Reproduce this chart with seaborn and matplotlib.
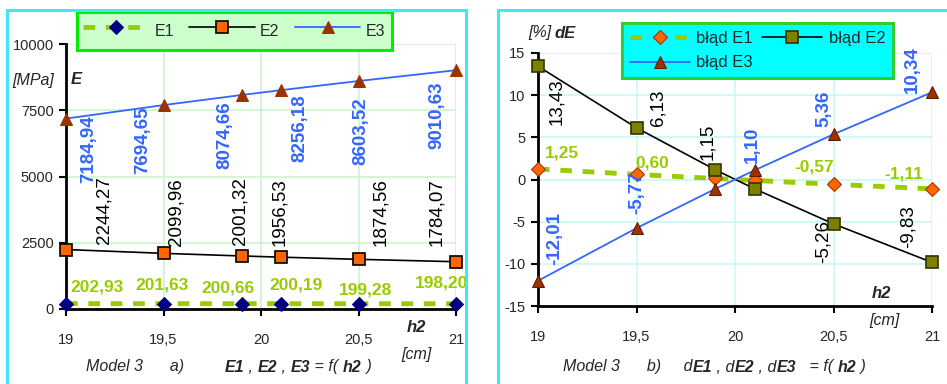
import numpy as np
import pandas as pd
import matplotlib
matplotlib.use("Agg")
import matplotlib.pyplot as plt
import seaborn as sns
from matplotlib.patches import Rectangle

# ---------------- data ----------------
h2 = [19.0, 19.5, 19.9, 20.1, 20.5, 21.0]
E1 = [202.93, 201.63, 200.66, 200.19, 199.28, 198.20]
E2 = [2244.27, 2099.96, 2001.32, 1956.53, 1874.56, 1784.07]
E3 = [7184.94, 7694.65, 8074.66, 8256.18, 8603.52, 9010.63]
dE1 = [1.25, 0.60, 0.12, -0.11, -0.57, -1.11]
dE2 = [13.43, 6.13, 1.15, -1.11, -5.26, -9.83]
dE3 = [-12.01, -5.77, -1.11, 1.10, 5.36, 10.34]
left_labels = ["E1", "E2", "E3"]
right_labels = ["błąd E1", "błąd E2", "błąd E3"]
x_ticks = [19, 19.5, 20, 20.5, 21]
left_yticks = [0, 2500, 5000, 7500, 10000]
right_yticks = [-15, -10, -5, 0, 5, 10, 15]

sns.set_theme(style="white")
plt.rcParams['font.family'] = ['Liberation Sans', 'DejaVu Sans']

W, H = 947, 384
fig = plt.figure(figsize=(W / 100, H / 100), dpi=100)
fig.patch.set_facecolor("white")

def fx(px):
    return px / W

def fy(py):
    return 1 - py / H

axL = fig.add_axes([fx(66), fy(309), fx(456) - fx(66), fy(44) - fy(309)])
axR = fig.add_axes([fx(538), fy(306), fx(932) - fx(538), fy(53) - fy(306)])

# panel borders
for (x0, y0, x1, y1) in [(7, 10, 466, 390), (498, 10, 952, 390)]:
    fig.patches.append(Rectangle((fx(x0), fy(y1)), fx(x1) - fx(x0), fy(y0) - fy(y1),
                                 transform=fig.transFigure, fill=False,
                                 edgecolor="#3fe8f5", linewidth=2.2, zorder=0))

GREEN = "#99cc00"
BLUE = "#3366ff"
BROWN = "#993300"
LBL = 13.5

def comma(v):
    return f"{v:.2f}".replace(".", ",")

def tick_fmt(v):
    s = f"{v:g}"
    return s.replace(".", ",")

def style_axes(ax, gridcolor, yticks, ylim):
    ax.set_facecolor("none")
    ax.set_xlim(19, 21)
    ax.set_ylim(*ylim)
    ax.set_xticks(x_ticks)
    ax.set_xticklabels([tick_fmt(v) for v in x_ticks], fontsize=10.5)
    ax.set_yticks(yticks)
    ax.set_yticklabels([str(v) for v in yticks], fontsize=10.5)
    ax.grid(True, color=gridcolor, linewidth=1.2)
    for s in ["top", "right"]:
        ax.spines[s].set_visible(False)
    for s in ["left", "bottom"]:
        ax.spines[s].set_color("black")
        ax.spines[s].set_linewidth(2)
    ax.tick_params(axis="both", direction="out", length=5, width=1.5, color="black",
                   bottom=True, left=True, pad=4)
    ax.tick_params(axis="x", pad=12)
    ax.set_xlabel("")
    ax.set_ylabel("")

# ---------------- left chart ----------------
sns.lineplot(x=h2, y=E1, ax=axL, color=GREEN, linewidth=3.5, linestyle=(0, (2.4, 2.2)),
             marker="D", markersize=7, markerfacecolor="#000080", markeredgecolor="#000080",
             label=left_labels[0], clip_on=False, zorder=3)
sns.lineplot(x=h2, y=E2, ax=axL, color="black", linewidth=1.2,
             marker="s", markersize=8, markerfacecolor="#ff6600", markeredgecolor="black",
             markeredgewidth=1.2, label=left_labels[1], clip_on=False, zorder=3)
sns.lineplot(x=h2, y=E3, ax=axL, color=BLUE, linewidth=1.3,
             marker="^", markersize=9, markerfacecolor=BROWN, markeredgecolor=BROWN,
             label=left_labels[2], clip_on=False, zorder=3)
style_axes(axL, "#ccf5cc", left_yticks, (0, 10000))

legL = axL.legend(loc="upper left", bbox_to_anchor=(fx(77), fy(12)),
                  bbox_transform=fig.transFigure, borderaxespad=0, ncol=3, fontsize=11.5,
                  handlelength=4.1, columnspacing=0.95, handletextpad=0.35,
                  borderpad=0.4, handleheight=2.1, frameon=True, fancybox=False)
legL.get_frame().set_facecolor("#ccffcc")
legL.get_frame().set_edgecolor("#00ee00")
legL.get_frame().set_linewidth(2.2)
legL.get_frame().set_alpha(1)

e3_off = [(23, -31), (-21, -35), (-17, -40), (19, -38), (2, -50), (-19, -45)]
e2_off = [(38, 39), (13, 41), (-2, 45), (-1, 45), (22, 47), (-19, 50)]
e1_off = [(31, 17), (-1, 19), (-14, 16), (15, 19), (7, 14), (-14, 21)]
for i, x in enumerate(h2):
    axL.annotate(comma(E3[i]), xy=(x, E3[i]), xytext=e3_off[i], textcoords="offset pixels",
                 rotation=90, ha="center", va="center", color=BLUE, fontweight="bold",
                 fontsize=LBL, annotation_clip=False, zorder=4)
    axL.annotate(comma(E2[i]), xy=(x, E2[i]), xytext=e2_off[i], textcoords="offset pixels",
                 rotation=90, ha="center", va="center", color="black",
                 fontsize=LBL, annotation_clip=False, zorder=4)
    axL.annotate(comma(E1[i]), xy=(x, E1[i]), xytext=e1_off[i], textcoords="offset pixels",
                 ha="center", va="center", color=GREEN, fontweight="bold",
                 fontsize=12.5, annotation_clip=False, zorder=4)

fig.text(fx(12), fy(80), "[MPa]", fontsize=11.5, style="italic", va="center", ha="left")
fig.text(fx(71), fy(80), "E", fontsize=12, style="italic", fontweight="bold", va="center", ha="left")
fig.text(fx(416), fy(328), "h2", fontsize=12, style="italic", fontweight="bold", va="center", ha="center")
fig.text(fx(416), fy(354), "[cm]", fontsize=11.5, style="italic", va="center", ha="center")

def caption(ax, x_px, y_px, parts):
    prev = fig.text(fx(x_px), fy(y_px), parts[0][0], fontsize=11.5, style="italic",
                    fontweight="bold" if parts[0][1] else "normal", va="center", ha="left")
    for txt, bold in parts[1:]:
        prev = ax.annotate(txt, xy=(1, 0.5), xycoords=prev, va="center", ha="left",
                           fontsize=11.5, style="italic",
                           fontweight="bold" if bold else "normal", annotation_clip=False)

caption(axL, 86, 367, [("Model 3      a)         ", False), ("E1", True), (" , ", False),
                       ("E2", True), (" , ", False), ("E3", True), (" = f( ", False),
                       ("h2", True), (" )", False)])

# ---------------- right chart ----------------
sns.lineplot(x=h2, y=dE1, ax=axR, color=GREEN, linewidth=3.5, linestyle=(0, (2.4, 2.2)),
             marker="D", markersize=7, markerfacecolor="#ff6600", markeredgecolor="#993300",
             label=right_labels[0], clip_on=False, zorder=3)
sns.lineplot(x=h2, y=dE2, ax=axR, color="black", linewidth=1.2,
             marker="s", markersize=8, markerfacecolor="#808000", markeredgecolor="#333300",
             markeredgewidth=1.2, label=right_labels[1], clip_on=False, zorder=3)
sns.lineplot(x=h2, y=dE3, ax=axR, color=BLUE, linewidth=1.3,
             marker="^", markersize=9, markerfacecolor=BROWN, markeredgecolor="#661a00",
             label=right_labels[2], clip_on=False, zorder=3)
style_axes(axR, "#c8f8f8", right_yticks, (-15, 15))

hR, lR = axR.get_legend_handles_labels()
order = [0, 2, 1]
legR = axR.legend([hR[i] for i in order], [lR[i] for i in order],
                  loc="upper left", bbox_to_anchor=(fx(622), fy(23)),
                  bbox_transform=fig.transFigure, borderaxespad=0, ncol=2, fontsize=12,
                  handlelength=3.6, columnspacing=0.55, handletextpad=0.4,
                  borderpad=0.45, labelspacing=0.6, frameon=True, fancybox=False)
legR.get_frame().set_facecolor("#00ffff")
legR.get_frame().set_edgecolor("#33cc33")
legR.get_frame().set_linewidth(2.2)
legR.get_frame().set_alpha(1)

de2_off = [(19, -35), (21, 20), (-8, 28), None, (-10, -18), (-24, 36)]
de3_off = [(17, 42), (0, 35), None, (-2, 25), (-10, 25), (-20, 23)]
de1_off = [(24, 16), (16, 11), None, None, (-19, 17), (-28, 15)]
for i, x in enumerate(h2):
    if de2_off[i] is not None:
        axR.annotate(comma(dE2[i]), xy=(x, dE2[i]), xytext=de2_off[i], textcoords="offset pixels",
                     rotation=90, ha="center", va="center", color="black",
                     fontsize=LBL, annotation_clip=False, zorder=4)
    if de3_off[i] is not None:
        axR.annotate(comma(dE3[i]), xy=(x, dE3[i]), xytext=de3_off[i], textcoords="offset pixels",
                     rotation=90, ha="center", va="center", color=BLUE, fontweight="bold",
                     fontsize=LBL, annotation_clip=False, zorder=4)
    if de1_off[i] is not None:
        axR.annotate(comma(dE1[i]), xy=(x, dE1[i]), xytext=de1_off[i], textcoords="offset pixels",
                     ha="center", va="center", color=GREEN, fontweight="bold",
                     fontsize=12.5, annotation_clip=False, zorder=4)

fig.text(fx(528), fy(33), "[%]", fontsize=11.5, style="italic", va="center", ha="left")
fig.text(fx(555), fy(33), "dE", fontsize=12, style="italic", fontweight="bold", va="center", ha="left")
fig.text(fx(881), fy(294), "h2", fontsize=12, style="italic", fontweight="bold", va="center", ha="center")
fig.text(fx(884), fy(320), "[cm]", fontsize=11.5, style="italic", va="center", ha="center")

caption(axR, 563, 367, [("Model 3      b)     d", False), ("E1", True), (" , d", False),
                        ("E2", True), (" , d", False), ("E3", True), ("   = f( ", False),
                        ("h2", True), (" )", False)])

fig.savefig("out.png", dpi=100, facecolor="white")
